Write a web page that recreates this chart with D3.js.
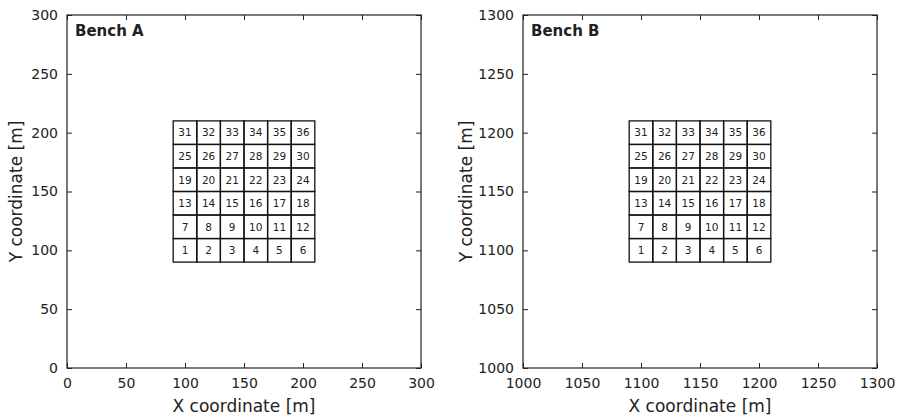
<!DOCTYPE html>
<html>
<head>
<meta charset="utf-8">
<script src="https://cdn.jsdelivr.net/npm/d3@7"></script>
<style>
	body { margin: 0; background: #fff; }
	text { font-family: "DejaVu Sans", sans-serif; fill: #222; }
	.tick text { font-size: 14px; }
	.label { font-size: 17px; }
	.title { font-size: 15px; font-weight: bold; }
	.cellnum { font-size: 10.5px; }
</style>
</head>
<body>
<main></main>
<script>
const panelNames = ['Bench A', 'Bench B'];
const domainsA = [0, 300];
const domainsB = [1000, 1300];
const ticksA = [0, 50, 100, 150, 200, 250, 300];
const ticksB = [1000, 1050, 1100, 1150, 1200, 1250, 1300];
const edgesA = [90, 110, 130, 150, 170, 190, 210];
const edgesB = [1090, 1110, 1130, 1150, 1170, 1190, 1210];
const blockIds = d3.range(1, 37);

const width = 899, height = 417;
const svg = d3.select('main').append('svg')
	.attr('width', width)
	.attr('height', height);

const panels = [
	{ name: panelNames[0], domain: domainsA, ticks: ticksA, edges: edgesA, left: 67, right: 421, ylabX: 22 },
	{ name: panelNames[1], domain: domainsB, ticks: ticksB, edges: edgesB, left: 523, right: 877, ylabX: 472 }
];
const plotTop = 15, plotBottom = 368;

panels.forEach(function(p) {
	const xScale = d3.scaleLinear().domain(p.domain).range([p.left, p.right]);
	const yScale = d3.scaleLinear().domain(p.domain).range([plotBottom, plotTop]);
	const g = svg.append('g');

	// blocks
	const cells = blockIds.map(function(id) {
		const col = (id - 1) % 6, row = Math.floor((id - 1) / 6);
		return { id: id, x0: p.edges[col], x1: p.edges[col + 1], y0: p.edges[row], y1: p.edges[row + 1] };
	});
	g.selectAll('.cell')
		.data(cells)
		.enter()
		.append('rect')
		.attr('class', 'cell')
		.attr('x', (c) => xScale(c.x0))
		.attr('y', (c) => yScale(c.y1))
		.attr('width', (c) => xScale(c.x1) - xScale(c.x0))
		.attr('height', (c) => yScale(c.y0) - yScale(c.y1))
		.attr('fill', 'none')
		.attr('stroke', '#111')
		.attr('stroke-width', 1.3);
	g.selectAll('.cellnum')
		.data(cells)
		.enter()
		.append('text')
		.attr('class', 'cellnum')
		.attr('x', (c) => xScale((c.x0 + c.x1) / 2))
		.attr('y', (c) => yScale((c.y0 + c.y1) / 2))
		.attr('dy', '0.36em')
		.attr('text-anchor', 'middle')
		.text((c) => c.id);

	// axes, ticks inward on all sides
	g.append('g')
		.attr('transform', `translate(0, ${plotBottom})`)
		.call(d3.axisBottom(xScale).tickValues(p.ticks).tickSize(-5).tickPadding(10).tickFormat(d3.format('d')));
	g.append('g')
		.attr('transform', `translate(0, ${plotTop})`)
		.call(d3.axisTop(xScale).tickValues(p.ticks).tickSize(-5).tickFormat(''));
	g.append('g')
		.attr('transform', `translate(${p.left}, 0)`)
		.call(d3.axisLeft(yScale).tickValues(p.ticks).tickSize(-5).tickPadding(9).tickFormat(d3.format('d')));
	g.append('g')
		.attr('transform', `translate(${p.right}, 0)`)
		.call(d3.axisRight(yScale).tickValues(p.ticks).tickSize(-5).tickFormat(''));
	g.selectAll('.domain').remove();
	g.selectAll('.tick line').attr('stroke', '#222');

	g.append('rect')
		.attr('x', p.left)
		.attr('y', plotTop)
		.attr('width', p.right - p.left)
		.attr('height', plotBottom - plotTop)
		.attr('fill', 'none')
		.attr('stroke', '#222')
		.attr('stroke-width', 1.2);

	g.append('text')
		.attr('class', 'title')
		.attr('x', p.left + 8)
		.attr('y', plotTop + 21)
		.text(p.name);

	g.append('text')
		.attr('class', 'label')
		.attr('x', (p.left + p.right) / 2)
		.attr('y', 412)
		.attr('text-anchor', 'middle')
		.text('X coordinate [m]');

	g.append('text')
		.attr('class', 'label')
		.attr('transform', `translate(${p.ylabX}, ${(plotTop + plotBottom) / 2}) rotate(-90)`)
		.attr('text-anchor', 'middle')
		.text('Y coordinate [m]');
});
</script>
</body>
</html>
